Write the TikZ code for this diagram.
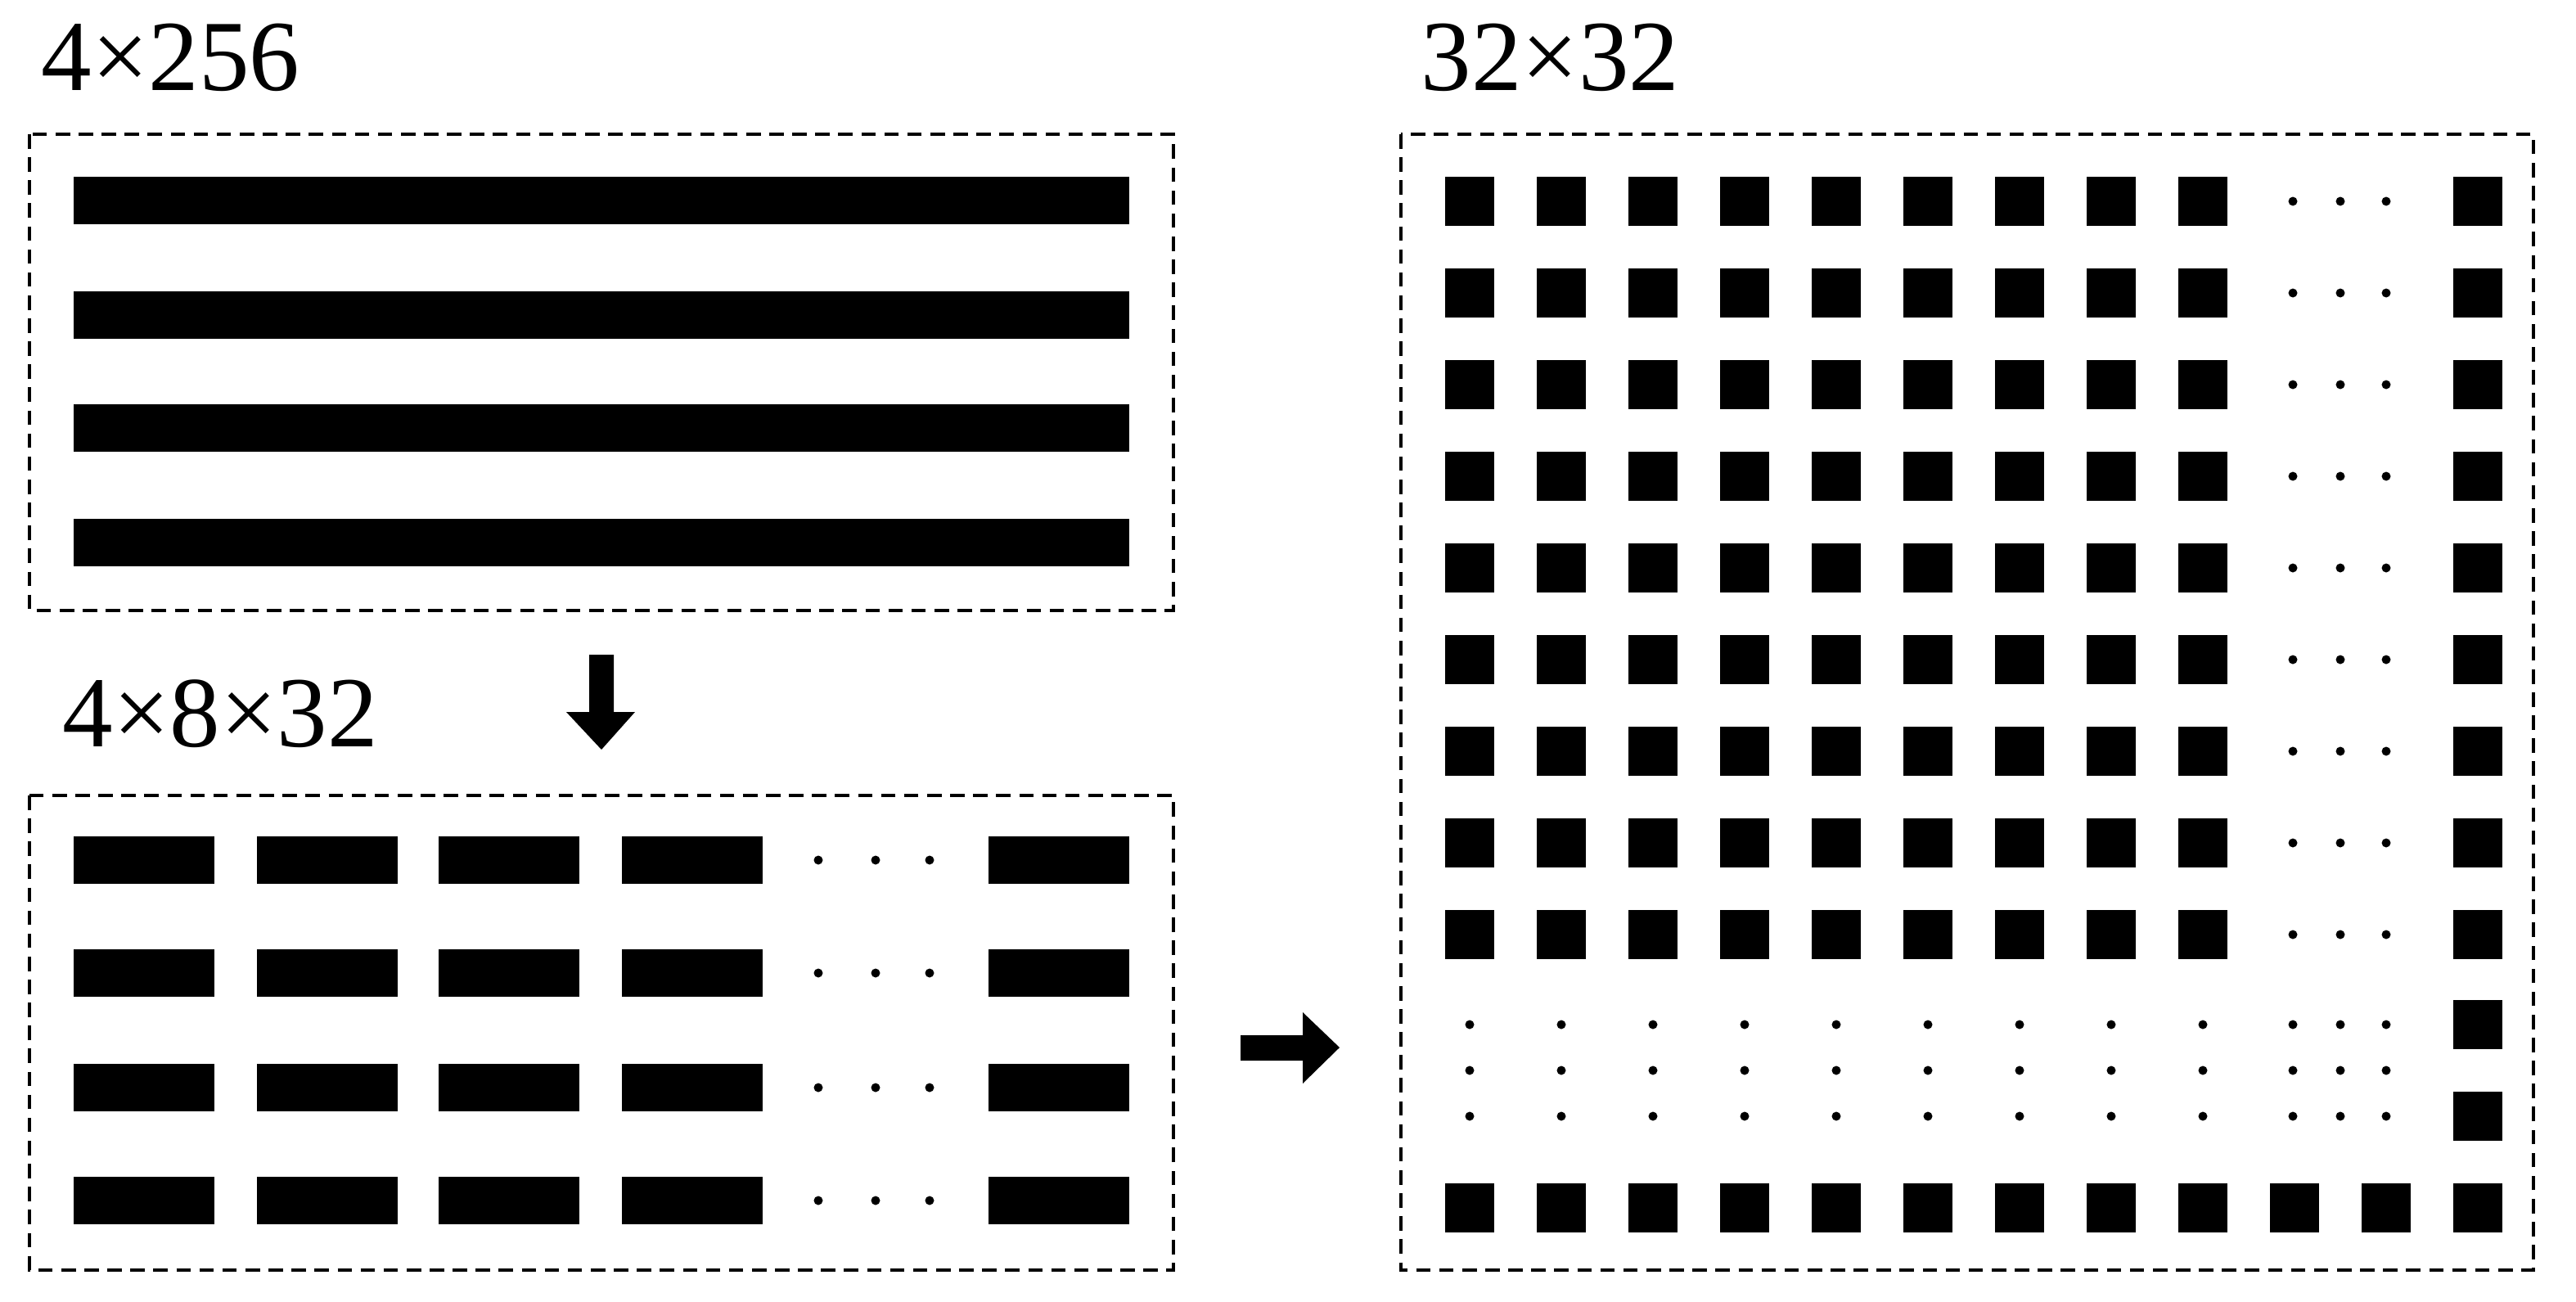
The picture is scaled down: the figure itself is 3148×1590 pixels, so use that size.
\documentclass[tikz,border=0pt]{standalone}
\usepackage{fontspec}
\setmainfont{Liberation Serif}
\begin{document}
\begin{tikzpicture}[x=0.01cm,y=-0.01cm,
  frame/.style={draw=black,line width=0.9pt,dash pattern=on 5pt off 3pt},
  blk/.style={fill=black},
  lbl/.style={anchor=base west,inner sep=0pt,font=\fontsize{35}{40}\selectfont}]
\useasboundingbox (0,0) rectangle (3148,1590);
% frames
\draw[frame] (36,164) rectangle (1434,746);
\draw[frame] (36,972) rectangle (1434,1552);
\draw[frame] (1712,164) rectangle (3096,1552);
% labels
\node[lbl] (l1) at (50,110) {4×256};
\node[lbl] (l2) at (76,912) {4×8×32};
\node[lbl] (l3) at (1736,110) {32×32};
% long bars
\foreach \y in {216,356,494,634} \fill[blk] (90,\y) rectangle (1380,\y+58);
% short bars
\foreach \y in {1022,1160,1300,1438}{
  \foreach \x in {90,314,536,760,1208} \fill[blk] (\x,\y) rectangle (\x+172,\y+58);
  \foreach \x in {1000,1070,1136} \fill (\x,\y+29) circle (5.5);
}
% grid squares
\foreach \j in {0,...,8}{
  \pgfmathsetmacro{\yy}{216+112*\j}
  \foreach \k in {0,...,8} \fill[blk] ({1766+112*\k},\yy) rectangle ({1826+112*\k},\yy+60);
  \fill[blk] (2998,\yy) rectangle (3058,\yy+60);
  \foreach \x in {2802,2860,2916} \fill (\x,\yy+30) circle (5.5);
}
% dot rows
\foreach \y in {1252,1308,1364}{
  \foreach \k in {0,...,8} \fill ({1796+112*\k},\y) circle (5.5);
  \foreach \x in {2802,2860,2916} \fill (\x,\y) circle (5.5);
}
\fill[blk] (2998,1222) rectangle (3058,1282);
\fill[blk] (2998,1334) rectangle (3058,1394);
% bottom row
\foreach \k in {0,...,11} \fill[blk] ({1766+112*\k},1446) rectangle ({1826+112*\k},1506);
% arrows
\fill[blk] (720,800) -- (750,800) -- (750,870) -- (776,870) -- (735,916) -- (692,870) -- (720,870) -- cycle;
\fill[blk] (1516,1265) -- (1592,1265) -- (1592,1237) -- (1637,1280) -- (1592,1324) -- (1592,1296) -- (1516,1296) -- cycle;
\end{tikzpicture}
\end{document}
